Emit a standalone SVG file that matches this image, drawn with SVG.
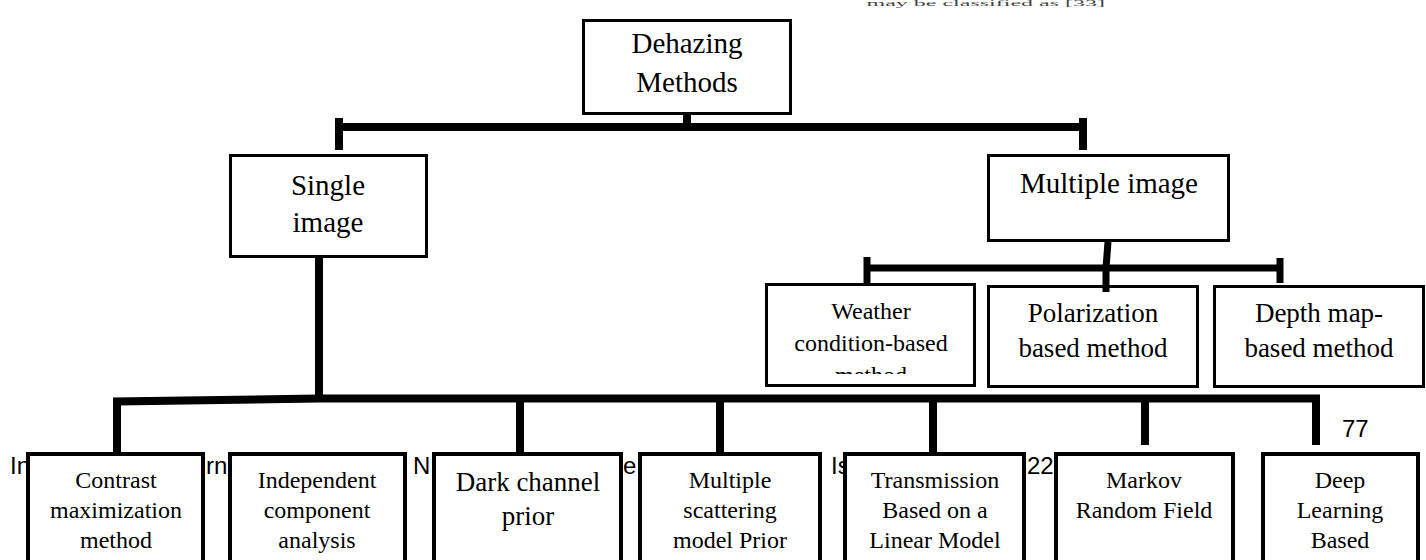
<svg xmlns="http://www.w3.org/2000/svg" width="1426" height="560" viewBox="0 0 1426 560">
<style>
.box{fill:#fff;stroke:#000;stroke-width:3}
.bbox{fill:#fff;stroke:#000;stroke-width:4}
.t{font-family:"Liberation Serif","Times New Roman",serif;text-anchor:middle;fill:#000}
.s24{font-size:24px}
.s27{font-size:27px}
.s29{font-size:29px}
.bg{font-family:"Liberation Sans",Arial,sans-serif;font-size:24px;fill:#000}
.c{stroke:#000;stroke-width:8;fill:none;stroke-linecap:butt;stroke-linejoin:miter}
.c7{stroke:#000;stroke-width:7;fill:none;stroke-linecap:butt}
</style>
<defs>
<clipPath id="clipW"><rect x="768" y="286" width="205" height="88"/></clipPath>
</defs>
<rect width="1426" height="560" fill="#fff"/>
<text class="t s24" x="1105" y="0" transform="translate(0,6) scale(1,0.35)" style="text-anchor:end;fill:#444">may be classified as [33]</text>
<g id="page-fragments">
<text class="bg" x="10" y="474">In</text>
<text class="bg" x="206" y="474">rn</text>
<text class="bg" x="413" y="474">N</text>
<text class="bg" x="623" y="474">e</text>
<text class="bg" x="831" y="474">Is</text>
<text class="bg" x="1027" y="474">22</text>
<text class="bg" x="1342" y="437">77</text>
</g>
<g id="n-root"><rect class="box" x="583.5" y="20.5" width="207" height="93"/>
<text class="t s29" x="687" y="53">Dehazing</text><text class="t s29" x="687" y="92">Methods</text></g>
<g id="n-single"><rect class="box" x="230.5" y="155.5" width="196" height="101"/>
<text class="t s29" x="328" y="195">Single</text><text class="t s29" x="328" y="232">image</text></g>
<g id="n-multiple"><rect class="box" x="988.5" y="155.5" width="240" height="85"/>
<text class="t s29" x="1109" y="193">Multiple image</text></g>
<g id="n-weather"><rect class="box" x="766.5" y="284.5" width="208" height="101"/>
<g clip-path="url(#clipW)"><text class="t s24" x="871" y="319">Weather</text><text class="t s24" x="871" y="351">condition-based</text><text class="t s24" x="871" y="383">method</text></g></g>
<g id="n-polar"><rect class="box" x="988.5" y="286.5" width="209" height="100"/>
<text class="t s27" x="1093" y="322">Polarization</text><text class="t s27" x="1093" y="357">based method</text></g>
<g id="n-depth"><rect class="box" x="1214.5" y="286.5" width="209" height="100"/>
<text class="t s27" x="1319" y="322">Depth map-</text><text class="t s27" x="1319" y="357">based method</text></g>
<g id="n-contrast"><rect class="bbox" x="28" y="454" width="175" height="120"/>
<text class="t s24" x="116" y="488">Contrast</text><text class="t s24" x="116" y="518">maximization</text><text class="t s24" x="116" y="548">method</text></g>
<g id="n-ica"><rect class="bbox" x="230" y="454" width="175" height="120"/>
<text class="t s24" x="317" y="488">Independent</text><text class="t s24" x="317" y="518">component</text><text class="t s24" x="317" y="548">analysis</text></g>
<g id="n-dcp"><rect class="bbox" x="434" y="454" width="187" height="120"/>
<text class="t s27" x="528" y="491">Dark channel</text><text class="t s27" x="528" y="525">prior</text></g>
<g id="n-msm"><rect class="bbox" x="640" y="454" width="180" height="120"/>
<text class="t s24" x="730" y="488">Multiple</text><text class="t s24" x="730" y="518">scattering</text><text class="t s24" x="730" y="548">model Prior</text></g>
<g id="n-tlm"><rect class="bbox" x="845" y="454" width="179" height="120"/>
<text class="t s24" x="935" y="488">Transmission</text><text class="t s24" x="935" y="518">Based on a</text><text class="t s24" x="935" y="548">Linear Model</text></g>
<g id="n-mrf"><rect class="bbox" x="1056" y="454" width="177" height="120"/>
<text class="t s24" x="1144" y="488">Markov</text><text class="t s24" x="1144" y="518">Random Field</text></g>
<g id="n-dl"><rect class="bbox" x="1263" y="454" width="155" height="120"/>
<text class="t s24" x="1340" y="488">Deep</text><text class="t s24" x="1340" y="518">Learning</text><text class="t s24" x="1340" y="548">Based</text></g>
<g id="connectors">
<line class="c" x1="339" y1="127" x2="1083" y2="127"/>
<line class="c" x1="339" y1="118" x2="339" y2="150"/>
<line class="c" x1="1083" y1="118" x2="1083" y2="150"/>
<line class="c" x1="687" y1="115" x2="687" y2="131"/>
<line class="c" x1="319" y1="258" x2="319" y2="399"/>
<line class="c7" x1="1108" y1="242" x2="1106" y2="268"/>
<line class="c7" x1="867" y1="268" x2="1281" y2="268"/>
<line class="c7" x1="867" y1="257" x2="867" y2="285"/>
<line class="c7" x1="1106" y1="268" x2="1106" y2="292"/>
<line class="c7" x1="1280" y1="258" x2="1280" y2="283"/>
<path class="c" d="M117,452 V401.5 L319,398.5 H1316 V445"/>
<line class="c" x1="520" y1="398" x2="520" y2="452"/>
<line class="c" x1="720" y1="398" x2="720" y2="452"/>
<line class="c" x1="933" y1="398" x2="933" y2="452"/>
<line class="c" x1="1145" y1="398" x2="1145" y2="445"/>
</g>
</svg>
